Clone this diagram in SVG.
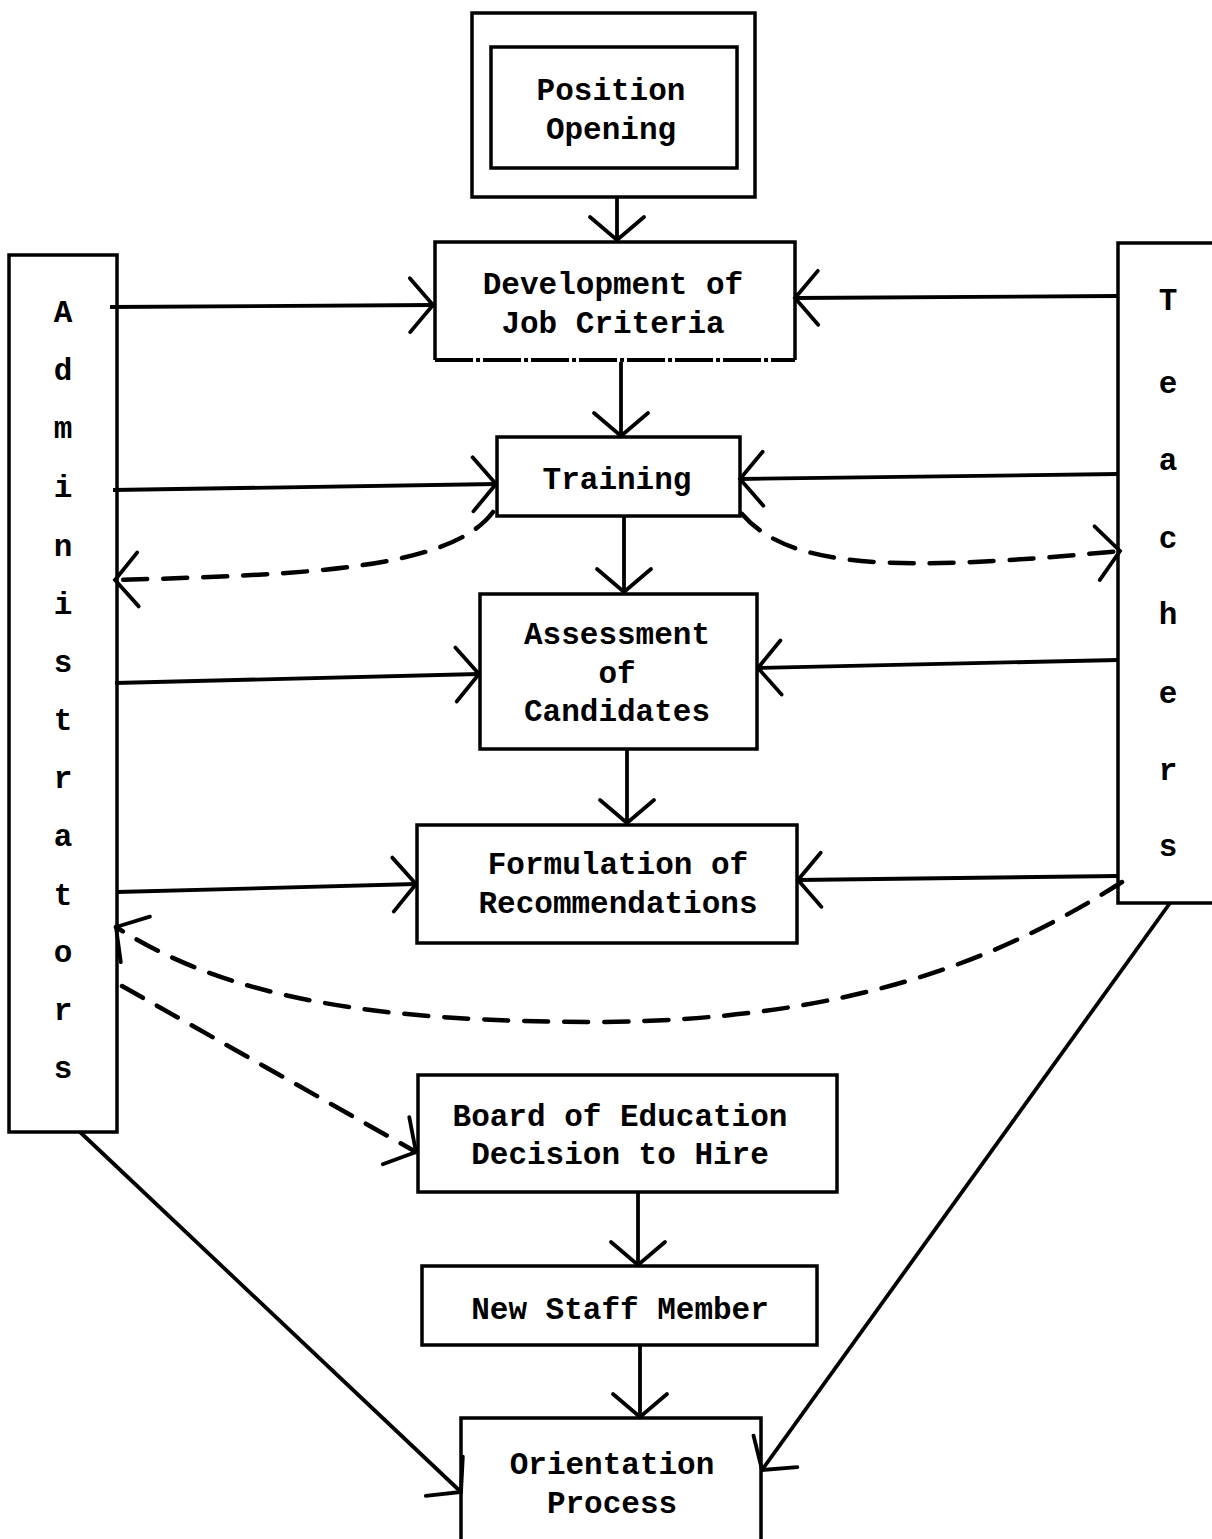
<svg xmlns="http://www.w3.org/2000/svg" width="1212" height="1539" viewBox="0 0 1212 1539">
<style>
.box{fill:none;stroke:#000;stroke-width:3.5}
.t{font-family:"Liberation Mono","Courier New",monospace;font-weight:bold;font-size:31px;fill:#000;text-anchor:middle}
.c{fill:none;stroke:#000;stroke-width:3.8;marker-end:url(#ah)}
.d{fill:none;stroke:#000;stroke-width:4.5;stroke-dasharray:24 16;stroke-linecap:round;marker-end:url(#ah)}
</style>
<defs>
<marker id="ah" markerUnits="userSpaceOnUse" viewBox="0 0 30 64" markerWidth="30" markerHeight="64" refX="26" refY="32" orient="auto">
<path d="M3,5 L26,32 L3,59" fill="none" stroke="#000" stroke-width="3.8" stroke-linecap="round"/>
</marker>
</defs>
<rect width="1212" height="1539" fill="#fff"/>
<g id="connectors">
<path class="c" d="M617,197 L617,240"/>
<path class="c" d="M621,362 L621,436"/>
<path class="c" d="M624,516 L624,592"/>
<path class="c" d="M627,749 L627,823"/>
<path class="c" d="M638,1192 L638,1265"/>
<path class="c" d="M640,1345 L640,1417"/>
<path class="c" d="M110,307 L433,305"/>
<path class="c" d="M1118,296 L795,298"/>
<path class="c" d="M113,490 L496,484"/>
<path class="c" d="M1118,474 L740,479"/>
<path class="c" d="M115,683 L479,674"/>
<path class="c" d="M1118,660 L758,668"/>
<path class="c" d="M117,892 L416,884"/>
<path class="c" d="M1118,876 L798,880"/>
<path class="c" d="M80,1132 L461,1492"/>
<path class="c" d="M1170,903 L762,1470"/>
<path class="d" d="M493,512 C450,570 300,575 115,580"/>
<path class="d" d="M742,514 C790,570 900,572 1120,551"/>
<path class="d" d="M1122,882 C1000,960 850,1020 600,1022 C380,1022 230,1000 116,927"/>
<path class="d" d="M122,986 L416,1152"/>
</g>
<g id="position-opening">
<rect class="box" x="472" y="13" width="283" height="184"/>
<rect class="box" x="491" y="47" width="246" height="121"/>
<text class="t" x="611" y="100">Position</text>
<text class="t" x="611" y="139">Opening</text>
</g>
<g id="development">
<path class="box" d="M435,360 L435,242 L795,242 L795,360"/>
<path d="M435,360 L795,360" fill="none" stroke="#000" stroke-width="4" stroke-dasharray="38 3 4 3"/>
<text class="t" x="613" y="294">Development of</text>
<text class="t" x="613" y="333">Job Criteria</text>
</g>
<g id="training">
<rect class="box" x="497" y="437" width="243" height="79"/>
<text class="t" x="617" y="489">Training</text>
</g>
<g id="assessment">
<rect class="box" x="480" y="594" width="277" height="155"/>
<text class="t" x="617" y="644">Assessment</text>
<text class="t" x="617" y="683">of</text>
<text class="t" x="617" y="721">Candidates</text>
</g>
<g id="formulation">
<rect class="box" x="417" y="825" width="380" height="118"/>
<text class="t" x="618" y="874">Formulation of</text>
<text class="t" x="618" y="913">Recommendations</text>
</g>
<g id="board">
<rect class="box" x="418" y="1075" width="419" height="117"/>
<text class="t" x="620" y="1126">Board of Education</text>
<text class="t" x="620" y="1164">Decision to Hire</text>
</g>
<g id="new-staff">
<rect class="box" x="422" y="1266" width="395" height="79"/>
<text class="t" x="620" y="1319">New Staff Member</text>
</g>
<g id="orientation">
<rect class="box" x="461" y="1418" width="300" height="125"/>
<text class="t" x="612" y="1474">Orientation</text>
<text class="t" x="612" y="1513">Process</text>
</g>
<g id="administrators">
<rect class="box" x="9" y="255" width="108" height="877"/>
<text class="t" x="63" y="322">A</text>
<text class="t" x="63" y="380">d</text>
<text class="t" x="63" y="438">m</text>
<text class="t" x="63" y="497">i</text>
<text class="t" x="63" y="556">n</text>
<text class="t" x="63" y="614">i</text>
<text class="t" x="63" y="672">s</text>
<text class="t" x="63" y="730">t</text>
<text class="t" x="63" y="788">r</text>
<text class="t" x="63" y="846">a</text>
<text class="t" x="63" y="905">t</text>
<text class="t" x="63" y="962">o</text>
<text class="t" x="63" y="1020">r</text>
<text class="t" x="63" y="1078">s</text>
</g>
<g id="teachers">
<rect class="box" x="1118" y="243" width="100" height="660"/>
<text class="t" x="1168" y="310">T</text>
<text class="t" x="1168" y="393">e</text>
<text class="t" x="1168" y="470">a</text>
<text class="t" x="1168" y="548">c</text>
<text class="t" x="1168" y="624">h</text>
<text class="t" x="1168" y="703">e</text>
<text class="t" x="1168" y="780">r</text>
<text class="t" x="1168" y="856">s</text>
</g>
</svg>
